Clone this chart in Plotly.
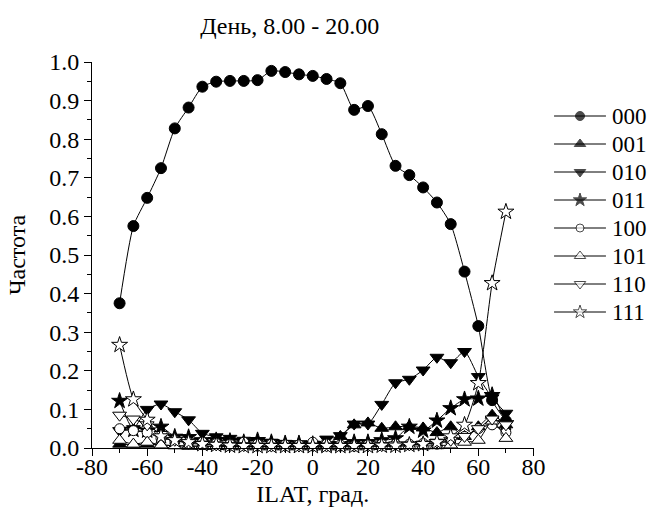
import plotly.graph_objects as go

lat = [-70, -65, -60, -55, -50, -45, -40, -35, -30, -25, -20, -15, -10, -5, 0,
       5, 10, 15, 20, 25, 30, 35, 40, 45, 50, 55, 60, 65, 70]

s000 = [0.375, 0.575, 0.648, 0.725, 0.828, 0.882, 0.936, 0.949, 0.951, 0.951,
        0.953, 0.977, 0.974, 0.968, 0.964, 0.956, 0.945, 0.876, 0.886, 0.813,
        0.731, 0.707, 0.675, 0.636, 0.580, 0.457, 0.316, 0.124, 0.07]
s001 = [0.01, 0.008, 0.01, 0.008, 0.006, 0.005, 0.005, 0.005, 0.004, 0.004,
        0.004, 0.004, 0.004, 0.004, 0.005, 0.01, 0.03, 0.06, 0.065, 0.051,
        0.055, 0.056, 0.052, 0.04, 0.055, 0.03, 0.055, 0.085, 0.06]
s010 = [0.045, 0.05, 0.1, 0.114, 0.094, 0.073, 0.038, 0.029, 0.025, 0.02,
        0.019, 0.015, 0.012, 0.01, 0.01, 0.023, 0.032, 0.062, 0.062, 0.113,
        0.169, 0.178, 0.202, 0.235, 0.221, 0.25, 0.185, 0.13, 0.09]
s011 = [0.122, 0.047, 0.045, 0.055, 0.029, 0.028, 0.02, 0.02, 0.018, 0.015,
        0.02, 0.015, 0.012, 0.012, 0.01, 0.008, 0.01, 0.015, 0.015, 0.02,
        0.025, 0.055, 0.045, 0.071, 0.103, 0.126, 0.128, 0.137, 0.064]
s100 = [0.05, 0.045, 0.04, 0.025, 0.02, 0.015, 0.015, 0.012, 0.01, 0.015,
        0.01, 0.01, 0.008, 0.008, 0.015, 0.01, 0.008, 0.005, 0.008, 0.01,
        0.01, 0.01, 0.012, 0.01, 0.02, 0.03, 0.05, 0.06, 0.04]
s101 = [0.02, 0.01, 0.015, 0.008, 0.006, 0.005, 0.004, 0.004, 0.003, 0.003,
        0.003, 0.003, 0.003, 0.003, 0.003, 0.003, 0.003, 0.003, 0.003, 0.004,
        0.004, 0.005, 0.005, 0.006, 0.008, 0.015, 0.02, 0.07, 0.025]
s110 = [0.085, 0.075, 0.06, 0.035, 0.02, 0.012, 0.01, 0.008, 0.006, 0.006,
        0.005, 0.005, 0.005, 0.005, 0.005, 0.005, 0.005, 0.005, 0.005, 0.006,
        0.008, 0.008, 0.01, 0.015, 0.02, 0.03, 0.05, 0.075, 0.06]
s111 = [0.267, 0.126, 0.073, 0.03, 0.02, 0.015, 0.01, 0.008, 0.006, 0.005,
        0.005, 0.005, 0.005, 0.005, 0.005, 0.005, 0.005, 0.005, 0.005, 0.006,
        0.006, 0.008, 0.01, 0.015, 0.03, 0.06, 0.168, 0.427, 0.612]

x_ticks = [-80, -60, -40, -20, 0, 20, 40, 60, 80]
x_ticktext = ['-80', '-60', '-40', '-20', '0', '20', '40', '60', '80']

names = ['000', '001', '010', '011', '100', '101', '110', '111']
series = [s000, s001, s010, s011, s100, s101, s110, s111]
symbols = ['circle', 'triangle-up', 'triangle-down', 'star',
           'circle', 'triangle-up', 'triangle-down', 'star']
fills = ['black'] * 4 + ['white'] * 4
sizes = [11, 12, 12, 12, 10, 12, 12, 12]

font = 'Liberation Serif, serif'

fig = go.Figure()
for name, ys, sym, fc, sz in zip(names, series, symbols, fills, sizes):
    fig.add_trace(go.Scatter(
        x=lat, y=ys, name=name, mode='lines+markers', showlegend=False,
        line=dict(color='black', width=1, shape='spline', smoothing=0.6),
        marker=dict(symbol=sym, size=sz, color=fc,
                    line=dict(color='black', width=1)),
        cliponaxis=False,
    ))

# hand-made legend (pixel coordinates on a hidden overlay axis)
for i, (name, sym, fc, sz) in enumerate(zip(names, symbols, fills, sizes)):
    row = 116 + 28 * i
    fig.add_trace(go.Scatter(
        x=[564, 590.5, 617], y=[row, row, row], mode='lines+markers',
        xaxis='x2', yaxis='y2', showlegend=False, hoverinfo='skip',
        line=dict(color='black', width=1),
        marker=dict(symbol=sym, size=[0, sz - 2, 0], color=fc,
                    line=dict(color='black', width=1)),
        cliponaxis=False,
    ))
    fig.add_annotation(x=621, y=row, xref='x2', yref='y2', text=name,
                       showarrow=False, xanchor='left', yanchor='middle',
                       font=dict(family=font, size=23, color='black'))

axis_common = dict(
    showline=True, linecolor='black', linewidth=1, mirror=False,
    showgrid=False, zeroline=False, ticks='outside', ticklen=7,
    tickcolor='black', tickfont=dict(family=font, size=24, color='black'),
)

fig.update_layout(
    width=662, height=521,
    margin=dict(l=92, r=0, t=62, b=73),
    paper_bgcolor='white', plot_bgcolor='white',
    font=dict(family=font, color='black'),
    title=dict(text='День, 8.00 - 20.00', x=(294 - 92) / 570, xanchor='center',
               xref='paper', y=1 - 26 / 521, yanchor='middle',
               font=dict(family=font, size=24)),
    xaxis=dict(domain=[0, 451 / 570], range=[-80, 80],
               tickmode='array', tickvals=x_ticks, ticktext=x_ticktext,
               ticklabelstandoff=-10,
               minor=dict(dtick=10, tick0=-80, ticks='outside', ticklen=4,
                          tickcolor='black'),
               title=dict(text='ILAT, град.', font=dict(family=font, size=24),
                          standoff=6),
               **axis_common),
    yaxis=dict(range=[0, 1.0], dtick=0.1, tickformat='.1f',
               minor=dict(dtick=0.05, ticks='outside', ticklen=4, tickcolor='black'),
               title=dict(text='Частота', font=dict(family=font, size=24),
                          standoff=16),
               **axis_common),
    xaxis2=dict(domain=[456 / 570, 1], range=[548, 662], visible=False,
                anchor='y2', fixedrange=True),
    yaxis2=dict(domain=[0, 1], range=[448, 62], visible=False,
                anchor='x2', overlaying='y', fixedrange=True),
    showlegend=False,
)

fig.write_html("out.html", config={'displayModeBar': False},
               post_script="document.body.style.margin='0px';")
